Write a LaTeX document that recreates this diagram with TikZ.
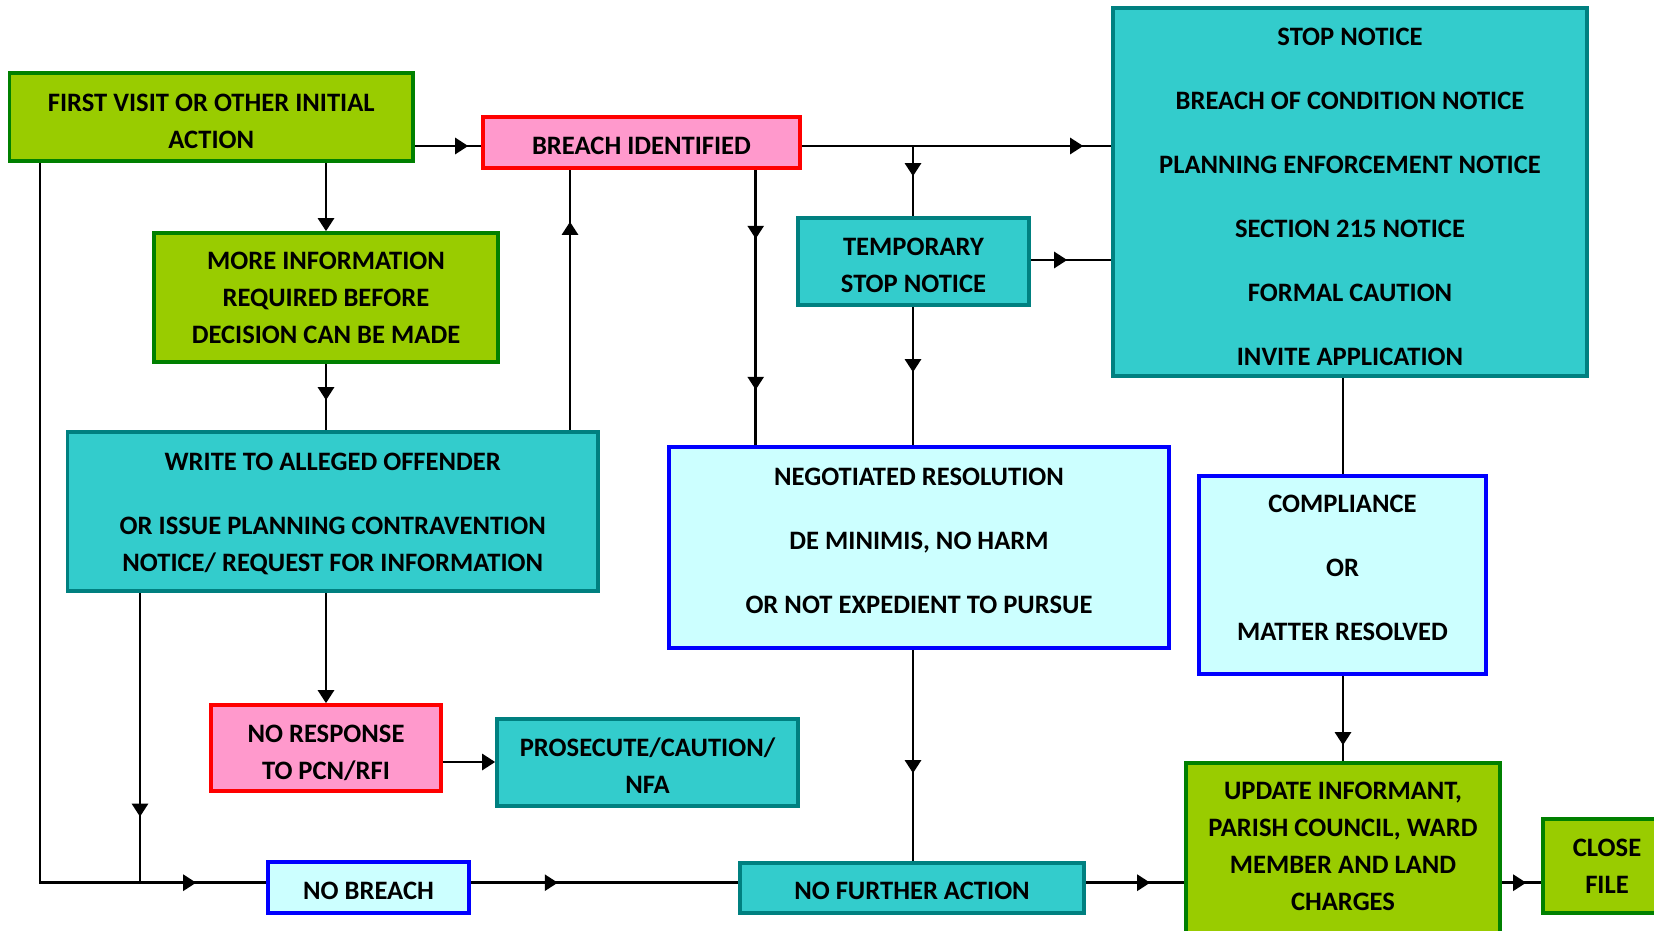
\documentclass[tikz,border=0pt]{standalone}
\usepackage{fontspec}
\setmainfont{Carlito}
\usetikzlibrary{arrows.meta,decorations.markings,backgrounds}
\definecolor{gfill}{HTML}{99CC00}
\definecolor{gline}{HTML}{008000}
\definecolor{pfill}{HTML}{FF99CC}
\definecolor{pline}{HTML}{FF0000}
\definecolor{tfill}{HTML}{33CCCC}
\definecolor{tline}{HTML}{008080}
\definecolor{cfill}{HTML}{CCFFFF}
\definecolor{cline}{HTML}{0000FF}
\tikzset{
  box/.style={draw, line width=1.8pt, inner sep=0pt, align=center,
    font=\bfseries\fontsize{13.3pt}{18.5pt}\selectfont},
  greenbox/.style={box, fill=gfill, draw=gline},
  pinkbox/.style={box, fill=pfill, draw=pline},
  tealbox/.style={box, fill=tfill, draw=tline},
  cyanbox/.style={box, fill=cfill, draw=cline},
  conn/.style={line width=1.3pt, black},
  arr/.style={postaction={decorate}, decoration={markings,
    mark=at position #1 with {\arrow{Triangle[length=6.5pt,width=8pt]}}}},
  arrtwo/.style 2 args={postaction={decorate}, decoration={markings,
    mark=at position #1 with {\arrow{Triangle[length=6.5pt,width=8pt]}},
    mark=at position #2 with {\arrow{Triangle[length=6.5pt,width=8pt]}}}},
  endarrow/.style={-{Triangle[length=6.5pt,width=8pt]}},
}
% #1 name, #2 style, #3-#6 corners (px), #7 text shift down (pt), #8 text
\newcommand\topstrut[1]{\ifdim #1pt<0pt \rule{0pt}{13.6pt}\else\rule{0pt}{\dimexpr 13.6pt+#1pt*2\relax}\fi}
\newcommand\botstrut[1]{\ifdim #1pt<0pt \rule[\dimexpr #1pt*2-5pt\relax]{0pt}{\dimexpr 5pt-#1pt*2\relax}\else\rule[-5pt]{0pt}{5pt}\fi}
\newcommand\mybox[8]{%
  \node[#2, minimum width={(#5-#3)*0.5pt}, minimum height={(#6-#4)*0.5pt}]
    (#1) at ({(#3+#5)/2},{(#4+#6)/2})
    {\topstrut{#7}#8\botstrut{#7}};}
\begin{document}
\begin{tikzpicture}[x=0.5pt,y=-0.5pt]
\useasboundingbox (0,0) rectangle (1654,931);
\clip (0,0) rectangle (1654,931);
% boxes
\mybox{first}{greenbox}{9.5}{73}{413}{161}{2.1}{FIRST VISIT OR OTHER INITIAL\\ACTION}
\mybox{breach}{pinkbox}{483}{117}{800}{168}{1.5}{BREACH IDENTIFIED}
\mybox{stop}{tealbox}{1113}{8}{1587}{376}{2.4}{STOP NOTICE\\[13.5pt]BREACH OF CONDITION NOTICE\\[13.5pt]PLANNING ENFORCEMENT NOTICE\\[13.5pt]SECTION 215 NOTICE\\[13.5pt]FORMAL CAUTION\\[13.5pt]INVITE APPLICATION}
\mybox{temp}{tealbox}{798}{218}{1029}{305}{1.9}{TEMPORARY\\STOP NOTICE}
\mybox{more}{greenbox}{154}{233}{498}{362}{0}{MORE INFORMATION\\REQUIRED BEFORE\\DECISION CAN BE MADE}
\mybox{write}{tealbox}{67.5}{432}{598}{591}{0.6}{WRITE TO ALLEGED OFFENDER\\[13.5pt]OR ISSUE PLANNING CONTRAVENTION\\NOTICE/ REQUEST FOR INFORMATION}
\mybox{neg}{cyanbox}{669}{447}{1169}{648}{-3.5}{NEGOTIATED RESOLUTION\\[13.5pt]DE MINIMIS, NO HARM\\[13.5pt]OR NOT EXPEDIENT TO PURSUE}
\mybox{comp}{cyanbox}{1199}{476}{1486}{674}{-3.65}{COMPLIANCE\\[13.5pt]OR\\[13.5pt]MATTER RESOLVED}
\mybox{nores}{pinkbox}{211}{705}{441}{791}{2.2}{NO RESPONSE\\TO PCN/RFI}
\mybox{pros}{tealbox}{497}{719}{798}{806}{1.8}{PROSECUTE/CAUTION/\\NFA}
\mybox{nobreach}{cyanbox}{268}{862}{469}{913}{1.9}{NO BREACH}
\mybox{nfa}{tealbox}{740}{863}{1084}{913}{1.6}{NO FURTHER ACTION}
\mybox{update}{greenbox}{1186}{763}{1500}{935}{-1.2}{UPDATE INFORMANT,\\PARISH COUNCIL, WARD\\MEMBER AND LAND\\CHARGES}
\mybox{close}{greenbox}{1543}{819}{1671}{913}{0.4}{CLOSE\\FILE}
% helper coordinates
\coordinate (yA) at (0,146);
\coordinate (yB) at (0,260);
\coordinate (yC) at (0,762);
\coordinate (yD) at (0,882.7);
\coordinate (xA) at (40,0);
\coordinate (xB) at (140,0);
\coordinate (xC) at (326,0);
\coordinate (xD) at (570,0);
\coordinate (xE) at (755.7,0);
\coordinate (xF) at (913,0);
\coordinate (xG) at (1343,0);
\coordinate (jB) at (xF |- yA);
\coordinate (cornerL) at (xA |- yD);
\coordinate (jW) at (xB |- yD);
\begin{scope}[on background layer]
\draw[conn, arr=-6.5pt] (first.east |- yA) -- (breach.west |- yA);
\draw[conn, arr=-14pt] (breach.east |- yA) -- (stop.west |- yA);
\draw[conn, arr=-20pt] (jB) -- (temp.north -| xF);
\draw[conn, arr=-22pt] (temp.east |- yB) -- (stop.west |- yB);
\draw[conn, arr=-36.5pt] (temp.south -| xF) -- (neg.north -| xF);
\draw[conn, arrtwo={34.5pt}{110pt}] (breach.south -| xE) -- (neg.north -| xE);
\draw[conn, arr=-26pt] (write.north -| xD) -- (breach.south -| xD);
\draw[conn, endarrow] (first.south -| xC) -- (more.north -| xC);
\draw[conn, arr=-15pt] (more.south -| xC) -- (write.north -| xC);
\draw[conn, arr=-35pt] (first.south -| xA) -- (cornerL) -- (nobreach.west |- yD);
\draw[conn, arr=-33pt] (write.south -| xB) -- (jW);
\draw[conn, endarrow] (write.south -| xC) -- (nores.north -| xC);
\draw[conn, endarrow] (nores.east |- yC) -- (pros.west |- yC);
\draw[conn, arr=43.5pt] (nobreach.east |- yD) -- (nfa.west |- yD);
\draw[conn, arr=-44pt] (neg.south -| xF) -- (nfa.north -| xF);
\draw[conn, arr=-17pt] (nfa.east |- yD) -- (update.west |- yD);
\draw[conn] (stop.south -| xG) -- (comp.north -| xG);
\draw[conn, arr=-8pt] (comp.south -| xG) -- (update.north -| xG);
\draw[conn, arr=-7.5pt] (update.east |- yD) -- (close.west |- yD);
\end{scope}
\end{tikzpicture}
\end{document}
